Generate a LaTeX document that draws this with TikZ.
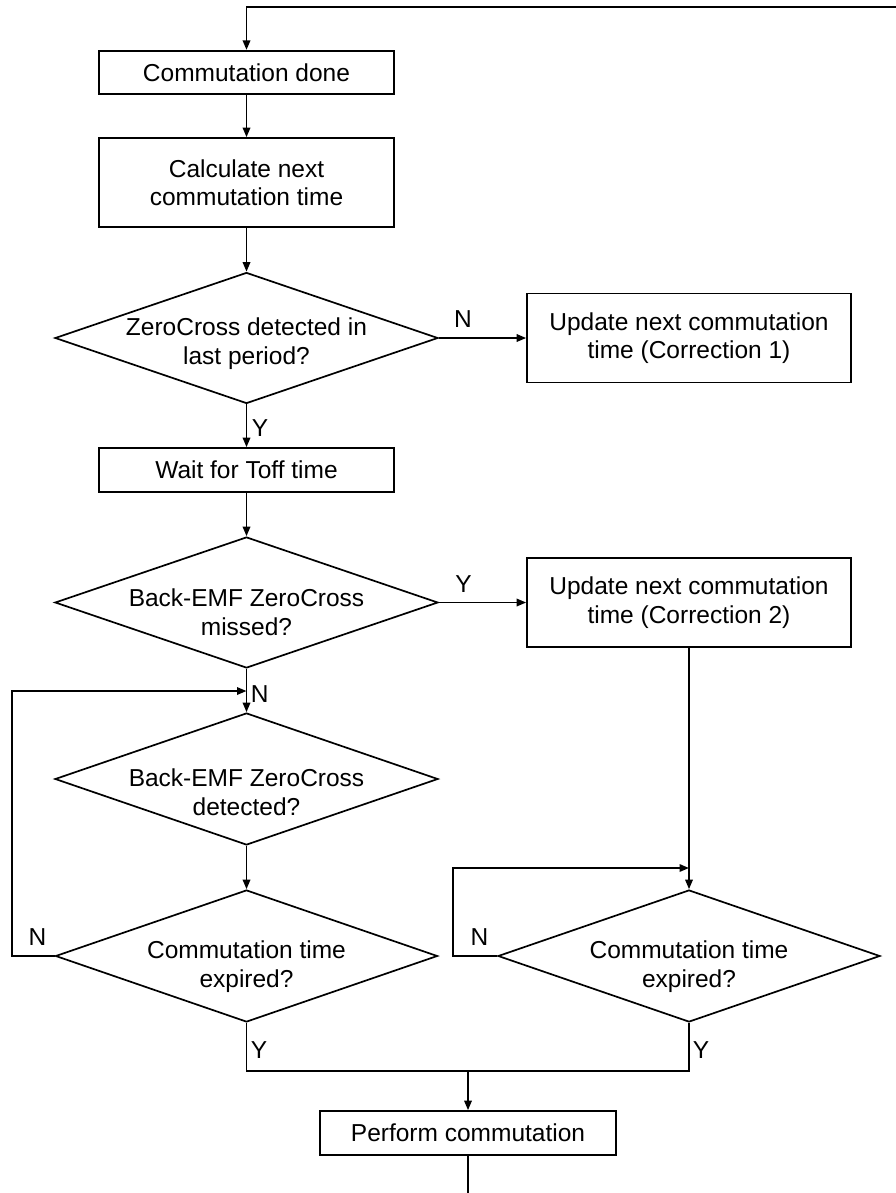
\documentclass[tikz,border=0pt]{standalone}
\usepackage{fontspec}
\setmainfont{Liberation Sans}
\usetikzlibrary{shapes.geometric,arrows.meta}
\begin{document}
\begin{tikzpicture}[x=1pt,y=-1pt,line width=1.7pt,
  every node/.style={font=\fontsize{24.5}{28.5}\selectfont,inner sep=0pt},
  procbox/.style={draw,rectangle,align=center,minimum width=#1},
  decision/.style={draw,diamond,minimum width=#1},
  qtext/.style={align=center,anchor=north},
  lbl/.style={anchor=north},
  flow/.style={-{Triangle[length=9.5pt,width=7.5pt]}}]
\useasboundingbox (0,0) rectangle (896,1193);

% process boxes
\node[procbox=295pt,minimum height=43.5pt] (done) at (246.5,72.5) {Commutation done};
\node[procbox=295pt,minimum height=89pt] (calc) at (246.5,182.5) {Calculate next\\commutation time};
\node[procbox=295pt,minimum height=44pt] (wait) at (246.5,470) {Wait for Toff time};
\node[procbox=324pt,minimum height=89pt] (corr1) at (689,338) {Update next commutation\\time (Correction 1)};
\node[procbox=324pt,minimum height=89pt] (corr2) at (689,602.5) {Update next commutation\\time (Correction 2)};
\node[procbox=296pt,minimum height=44pt] (perform) at (468,1133) {Perform commutation};

% decisions
\node[decision=383pt,minimum height=131pt] (zc) at (246.5,338) {};
\node[qtext] (zct) at (246.5,317) {ZeroCross detected in\\last period?};
\node[decision=383pt,minimum height=131pt] (miss) at (246.5,602.5) {};
\node[qtext] (misst) at (246.5,588) {Back-EMF ZeroCross\\missed?};
\node[decision=383pt,minimum height=132pt] (det) at (246.5,779) {};
\node[qtext] (dett) at (246.5,768) {Back-EMF ZeroCross\\detected?};
\node[decision=382pt,minimum height=132pt] (expl) at (246.5,956) {};
\node[qtext] (explt) at (246.5,940) {Commutation time\\expired?};
\node[decision=382pt,minimum height=132pt] (expr) at (689,956) {};
\node[qtext] (exprt) at (689,940) {Commutation time\\expired?};

% branch labels
\node[lbl] (n1) at (463,310) {N};
\node[lbl,anchor=north west] (y1) at (251,419) {Y};
\node[lbl] (y2) at (463.5,575) {Y};
\node[lbl,anchor=north west] (n2) at (250,685) {N};
\node[lbl] (n3) at (37.5,928) {N};
\node[lbl] (n4) at (479.5,928) {N};
\node[lbl,anchor=north west] (y3) at (250,1041) {Y};
\node[lbl,anchor=north west] (y4) at (692,1041) {Y};

% joints and free ends
\coordinate (loopin) at (896,7);
\coordinate (j1) at (246.5,691);
\coordinate (j2) at (689,868);
\coordinate (merge) at (468,1071);
\coordinate (loopout) at (468,1193);

% connectors
\draw[flow] (loopin) -| (done.north);
\draw[flow] (done) -- (calc);
\draw[flow] (calc) -- (zc.north);
\draw[flow] (zc.east) -- (corr1);
\draw[flow] (zc.south) -- (wait);
\draw[flow] (wait) -- (miss.north);
\draw[flow] (miss.east) -- (corr2);
\draw[flow] (miss.south) -- (det.north);
\draw[flow] (det.south) -- (expl.north);
\draw[flow] (expl.west) -- (12,956) |- (j1);
\draw[flow] (corr2) -- (expr.north);
\draw[flow] (expr.west) -- (453,956) |- (j2);
\draw (expl.south) |- (merge) -| (expr.south);
\draw[flow] (merge) -- (perform);
\draw (perform) -- (loopout);
\end{tikzpicture}
\end{document}
